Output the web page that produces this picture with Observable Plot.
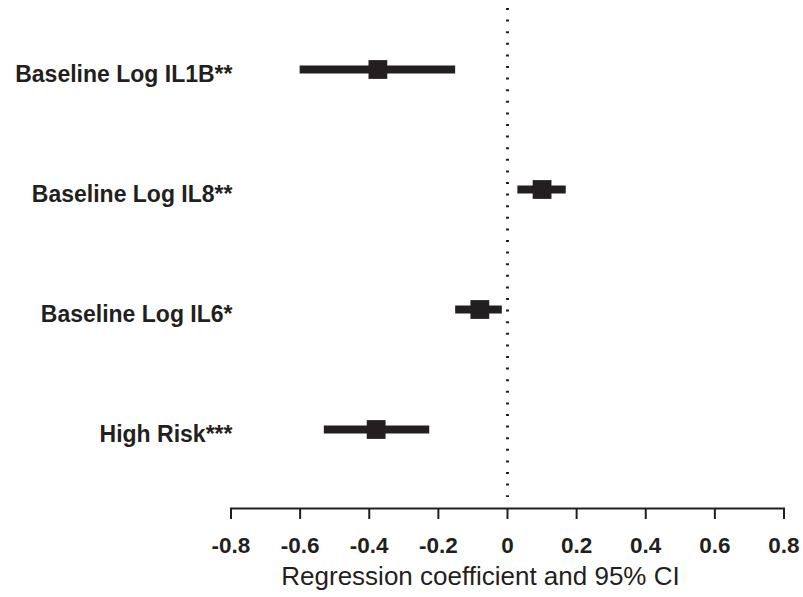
<!DOCTYPE html>
<html>
<head>
<meta charset="utf-8">
<script src="https://cdn.jsdelivr.net/npm/d3@7"></script>
<script src="https://cdn.jsdelivr.net/npm/@observablehq/plot@0.6"></script>
<style>
  html, body { margin: 0; padding: 0; background: #fff; }
  #chart svg { display: block; }
</style>
</head>
<body>
<div id="chart"></div>
<script>
// Predictors, top to bottom
const predictors = ["Baseline Log IL1B**", "Baseline Log IL8**", "Baseline Log IL6*", "High Risk***"];
// Regression coefficients and 95% confidence limits
const estimates = [-0.375, 0.10, -0.08, -0.38];
const lower = [-0.60, 0.03, -0.15, -0.53];
const upper = [-0.15, 0.17, -0.015, -0.225];
// x-axis ticks
const xTicks = [-0.8, -0.6, -0.4, -0.2, 0, 0.2, 0.4, 0.6, 0.8];
const xTitle = "Regression coefficient and 95% CI";

const rows = predictors.map((name, i) => ({
  name, est: estimates[i], lo: lower[i], hi: upper[i]
}));

const ink = "#231f20";

const chart = Plot.plot({
  width: 803,
  height: 597,
  marginLeft: 230.5,
  marginRight: 19.5,
  marginTop: 8,
  marginBottom: 89,
  style: { fontFamily: "Liberation Sans, Arial, sans-serif", color: ink, background: "#fff" },
  x: { domain: [-0.8, 0.8] },
  y: { type: "point", domain: predictors, range: [68, 430], padding: 0 },
  marks: [
    // reference line at zero
    Plot.ruleX([0], { stroke: ink, strokeWidth: 3, strokeDasharray: "2,9.6", insetBottom: 11 }),
    // confidence intervals
    Plot.ruleY(rows, { y: "name", x1: "lo", x2: "hi", stroke: ink, strokeWidth: 8 }),
    // point estimates
    Plot.dot(rows, { x: "est", y: "name", symbol: "square", r: 10.6, fill: ink, stroke: "none" }),
    // bottom axis line
    Plot.frame({ anchor: "bottom", stroke: ink, strokeWidth: 2 }),
    Plot.axisX({
      ticks: xTicks,
      tickFormat: d => d === 0 ? "0" : d.toFixed(1),
      tickSize: 11,
      tickPadding: 18,
      stroke: ink,
      strokeWidth: 2,
      fontSize: 22.5,
      fontWeight: "bold",
      fill: ink,
      label: null
    }),
    Plot.axisY({
      tickSize: 0,
      tickPadding: -1.5,
      dy: 5,
      fontSize: 23,
      fontWeight: "bold",
      fill: ink,
      label: null
    }),
    Plot.text([xTitle], {
      frameAnchor: "bottom",
      lineAnchor: "bottom",
      dy: 76,
      dx: -27,
      fontSize: 26,
      fill: ink
    })
  ]
});

document.getElementById("chart").appendChild(chart);
</script>
</body>
</html>
